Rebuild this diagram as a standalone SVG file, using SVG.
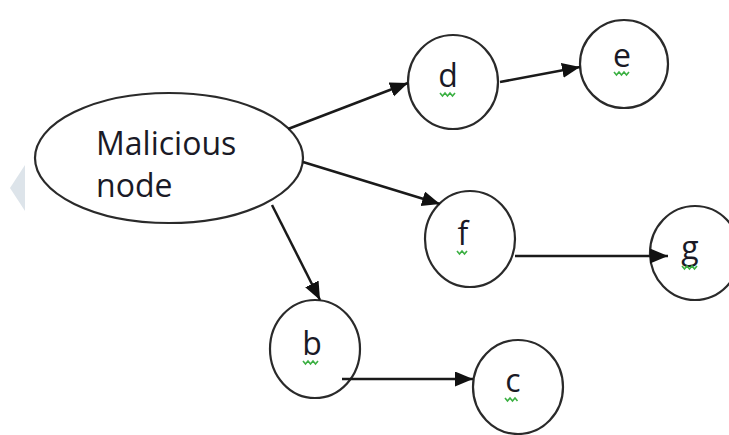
<svg xmlns="http://www.w3.org/2000/svg" width="729" height="435" viewBox="0 0 729 435">
<defs>
<marker id="ah" markerUnits="userSpaceOnUse" markerWidth="19" markerHeight="16" refX="18" refY="7.5" orient="auto">
<path d="M0,0 L18,7.5 L0,15 z" fill="#111"/>
</marker>
<style>
.nd{fill:#fff;stroke:#2a2a2a;stroke-width:2.2}
.lb{font-family:"Open Sans","Noto Sans",sans-serif;font-size:32px;fill:#1a1a26}
.ct{text-anchor:middle}
.cn{stroke:#1a1a1a;stroke-width:2.5;fill:none;marker-end:url(#ah)}
.sq{stroke:#3cb043;stroke-width:1.6;fill:none}
</style>
</defs>
<rect width="729" height="435" fill="#fff"/>
<polygon points="10,188 25,165 25,211" fill="#dde4ea"/>
<g id="malicious">
<ellipse class="nd" cx="169" cy="158" rx="134" ry="65"/>
<text class="lb" x="96" y="155">Malicious</text>
<text class="lb" x="96" y="197">node</text>
</g>
<g id="d">
<ellipse class="nd" cx="453" cy="82" rx="45" ry="47"/>
<text class="lb ct" x="448" y="87">d</text>
<path class="sq" d="M440,93 l2.5,3 l2.5,-3 l2.5,3 l2.5,-3 l2.5,3 l2.5,-3"/>
</g>
<g id="e">
<ellipse class="nd" cx="624" cy="64" rx="44" ry="44"/>
<text class="lb ct" x="622" y="67">e</text>
<path class="sq" d="M614,72 l2.5,3 l2.5,-3 l2.5,3 l2.5,-3 l2.5,3 l2.5,-3"/>
</g>
<g id="f">
<ellipse class="nd" cx="470" cy="239" rx="45" ry="48"/>
<text class="lb ct" x="463" y="245">f</text>
<path class="sq" d="M457,251 l2.5,3 l2.5,-3 l2.5,3 l2.5,-3"/>
</g>
<g id="g">
<ellipse class="nd" cx="695" cy="253" rx="45" ry="47"/>
<text class="lb ct" x="690" y="259">g</text>
<path class="sq" d="M682,266 l2.5,3 l2.5,-3 l2.5,3 l2.5,-3 l2.5,3 l2.5,-3"/>
</g>
<g id="b">
<ellipse class="nd" cx="315" cy="349" rx="45" ry="49"/>
<text class="lb ct" x="312" y="355">b</text>
<path class="sq" d="M303,361 l2.5,3 l2.5,-3 l2.5,3 l2.5,-3 l2.5,3 l2.5,-3"/>
</g>
<g id="c">
<ellipse class="nd" cx="518" cy="387" rx="45" ry="47"/>
<text class="lb ct" x="513" y="392">c</text>
<path class="sq" d="M505,398 l2.5,3 l2.5,-3 l2.5,3 l2.5,-3 l2.5,3"/>
</g>
<g id="connectors">
<line class="cn" x1="288" y1="129" x2="408" y2="83"/>
<line class="cn" x1="303" y1="162" x2="440" y2="204"/>
<line class="cn" x1="272" y1="205" x2="320" y2="300"/>
<line class="cn" x1="500" y1="82" x2="580" y2="67"/>
<line class="cn" x1="515" y1="256" x2="668" y2="256"/>
<line class="cn" x1="342" y1="379" x2="473" y2="379"/>
</g>
</svg>
